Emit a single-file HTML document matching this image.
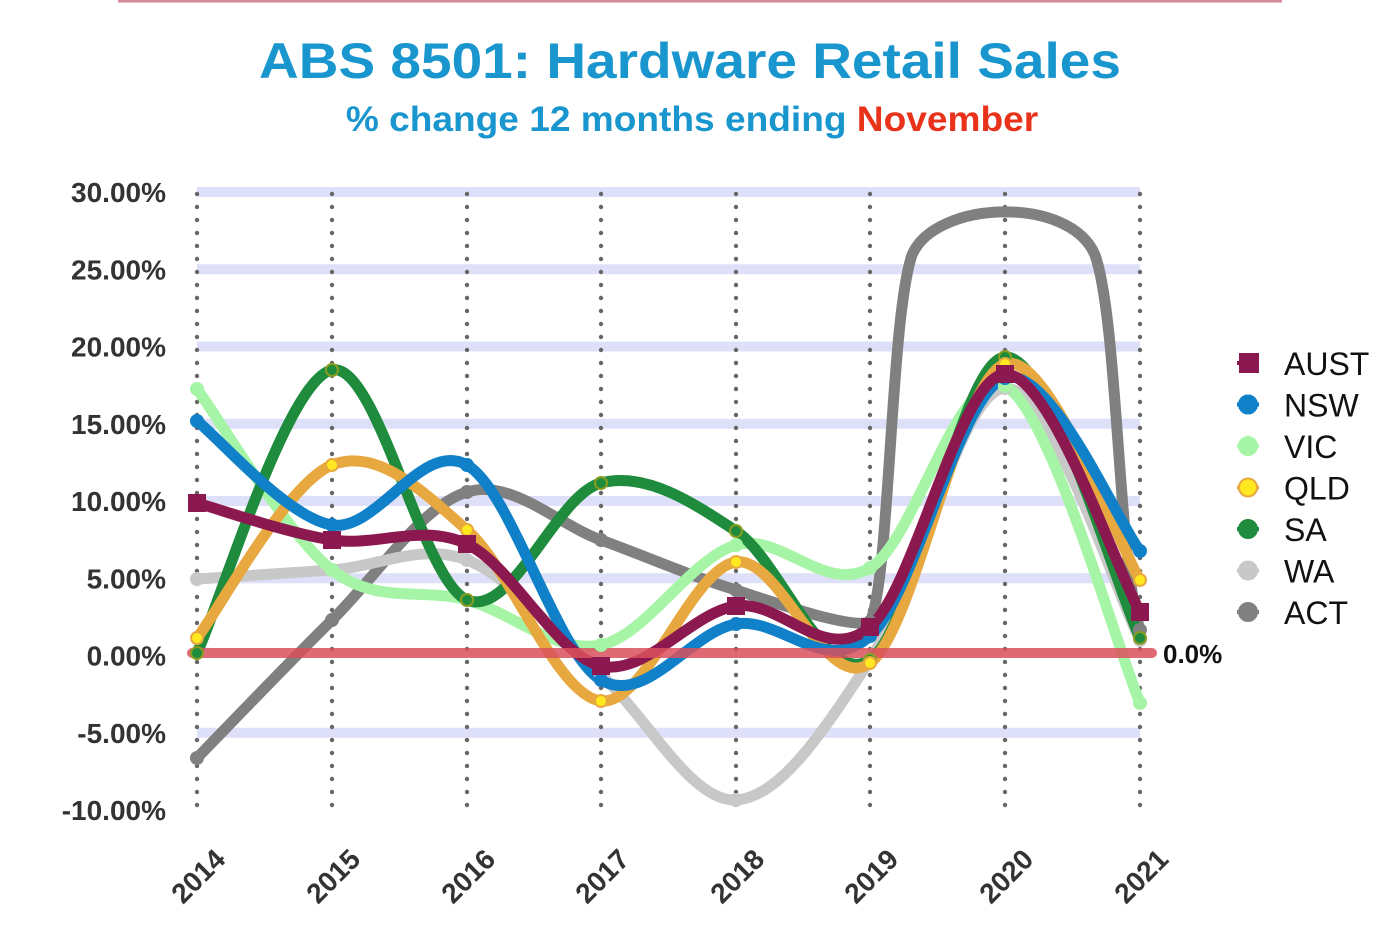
<!DOCTYPE html>
<html><head><meta charset="utf-8"><style>
body{margin:0;background:#fff;width:1400px;height:924px;overflow:hidden;font-family:"Liberation Sans",sans-serif}
</style></head><body>
<svg id="s" width="1400" height="924" xmlns="http://www.w3.org/2000/svg">
<line x1="118" y1="1" x2="1282" y2="1" stroke="#d48a94" stroke-width="3"/>
<text x="690" y="78" text-anchor="middle" font-size="50" font-weight="bold" fill="#1a96cf" transform="translate(690,0) scale(1.1,1) translate(-690,0)">ABS 8501: Hardware Retail Sales</text>
<text x="692" y="131" text-anchor="middle" font-size="35" font-weight="bold" fill="#1a96cf" transform="translate(692,0) scale(1.06,1) translate(-692,0)">% change 12 months ending <tspan fill="#e8321a">November</tspan></text>
<g id="grid"></g>
<g id="lines"></g>
<g font-size="28" font-weight="bold" fill="#333" text-anchor="end" id="ylab"></g>
<g font-size="28" font-weight="bold" fill="#333" id="xlab"></g>
<text x="1163" y="663" font-size="26" font-weight="bold" fill="#111">0.0%</text>
<g id="leg" font-size="32" fill="#111"></g>
</svg>
<script>
const NS="http://www.w3.org/2000/svg";
function el(p,t,a,txt){const e=document.createElementNS(NS,t);for(const k in a)e.setAttribute(k,a[k]);if(txt)e.textContent=txt;document.getElementById(p).appendChild(e);return e;}
const X=[197,332,467,601,736,870,1005,1140];
const yv=v=>655.5-v*15.45;
[30,25,20,15,10,5,-5].forEach(v=>el('grid','rect',{x:197,y:yv(v)-5,width:943,height:10,fill:'#dde0f8'}));
X.forEach(x=>{for(let y=194;y<=810;y+=13)el('grid','circle',{cx:x,cy:y,r:2.2,fill:'#666'})});
['30.00%','25.00%','20.00%','15.00%','10.00%','5.00%','0.00%','-5.00%','-10.00%'].forEach((t,i)=>el('ylab','text',{x:166,y:yv(30-5*i)+10},t));
X.forEach((x,i)=>el('xlab','text',{x:0,y:0,transform:`translate(${x-14},${905}) rotate(-45)`,'text-anchor':'start'},String(2014+i)));
const S=[
['ACT','#808080',[758,620,492,540,590,622,212,630],'c'],
['WA','#c8c8c8',[579,570,560,675,800,660,388,640],'c'],
['VIC','#a6f5a6',[389,570,600,645,545,568,386,703],'c'],
['SA','#1e8c3c',[653,370,600,483,531,660,357,638],'c'],
['QLD','#e8a840',[638,465,530,701,562,663,364,580],'c'],
['NSW','#1080c8',[421,525,465,680,624,636,378,551],'c'],
['AUST','#8c1850',[503,540,544,666,606,627,374,612],'s']];
function path(Y,n){let d=`M${X[0]},${Y[0]}`;const N=n||Y.length-1;for(let i=0;i<N;i++){const p0=[X[Math.max(i-1,0)],Y[Math.max(i-1,0)]],p1=[X[i],Y[i]],p2=[X[i+1],Y[i+1]],p3=[X[Math.min(i+2,7)],Y[Math.min(i+2,7)]];const t=6;d+=` C${p1[0]+(p2[0]-p0[0])/t},${p1[1]+(p2[1]-p0[1])/t} ${p2[0]-(p3[0]-p1[0])/t},${p2[1]-(p3[1]-p1[1])/t} ${p2[0]},${p2[1]}`;}return d;}
S.forEach(([n,c,Y,m])=>{let d;if(n=='ACT'){d=path([758,620,492,540,590,622,622,630],4)+` C${736+22},597 ${870-20},${630} 870,622 C890,580 890,320 912,255 C935,200 1070,195 1095,255 C1118,320 1118,560 1140,630`;}else d=path(Y);
el('lines','path',{d:d,fill:'none',stroke:c,'stroke-width':11,'stroke-linecap':'round'});});
el('lines','line',{x1:192,y1:653,x2:1152,y2:653,stroke:'#d9505c','stroke-width':10,'stroke-opacity':0.85,'stroke-linecap':'round'});
S.forEach(([n,c,Y,m])=>{Y.forEach((y,i)=>{if(n=='ACT'&&i==6)return;if(m=='s')el('lines','rect',{x:X[i]-9,y:y-9,width:18,height:18,fill:c});else{let f=c;if(n=='QLD')f='#ffe820';el('lines','circle',{cx:X[i],cy:y,r:6,fill:f,stroke:n=='SA'?'#8a9c20':c,'stroke-width':2});}})});
const L=['AUST','NSW','VIC','QLD','SA','WA','ACT'];
L.forEach((n,i)=>{const s=S.find(a=>a[0]==n);const y=363+i*41.5;el('leg','line',{x1:1237,y1:y,x2:1259,y2:y,stroke:s[1],'stroke-width':4});
if(s[3]=='s')el('leg','rect',{x:1239,y:y-10,width:20,height:20,fill:s[1]});else el('leg','circle',{cx:1248,cy:y,r:9,fill:n=='QLD'?'#ffe820':s[1],stroke:s[1],'stroke-width':2});
el('leg','text',{x:1284,y:y+12},n);});
</script>
</body></html>
